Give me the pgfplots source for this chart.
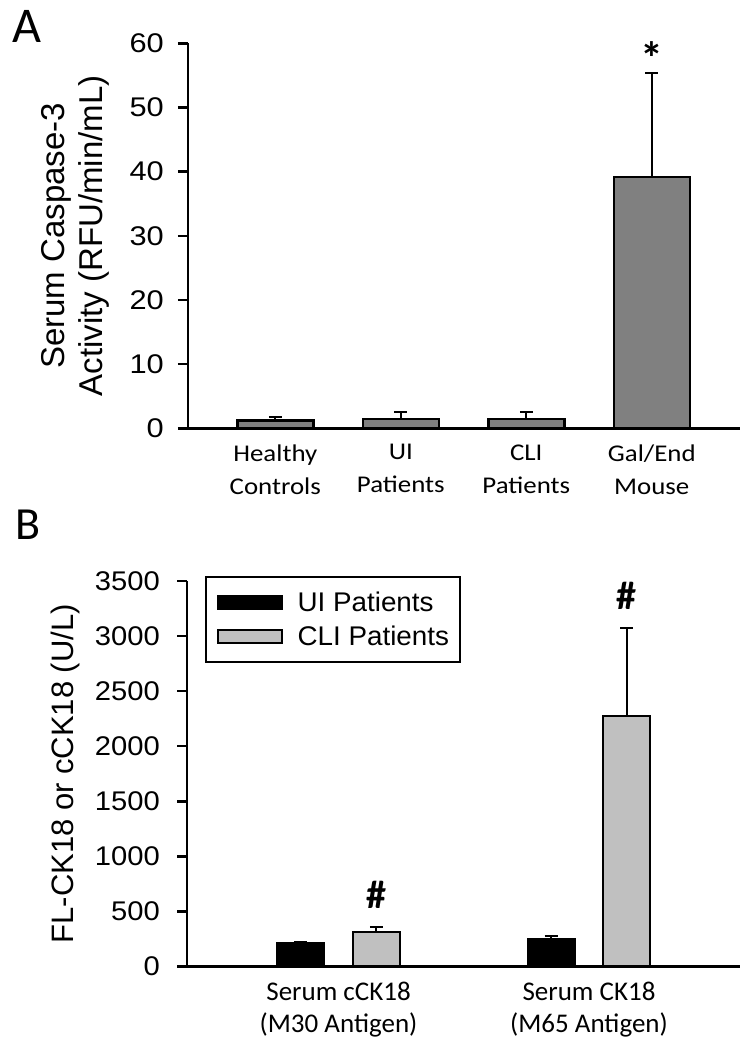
\documentclass[border=0pt]{standalone}
\usepackage{pgfplots}
\pgfplotsset{compat=1.18}
\usepackage{fontspec}
\setmainfont{Carlito}
\newfontfamily\tickA[FakeStretch=1.14]{Liberation Sans}
\newfontfamily\tickB[FakeStretch=1.08]{Liberation Sans}
\newfontfamily\legf[FakeStretch=1.03]{Liberation Sans}
\newfontfamily\labf{Liberation Sans}
\newfontfamily\catA[FakeStretch=1.12]{Carlito}
\newfontfamily\catB{Carlito}
\definecolor{barA}{HTML}{808080}
\definecolor{barCLI}{HTML}{C0C0C0}
\begin{document}
\begin{tikzpicture}
\path[use as bounding box] (0,0) rectangle (755bp,-1048bp);
\node[font=\catB\fontsize{50bp}{52bp}\selectfont, anchor=base west, inner sep=0pt] at (12bp,-42bp) {A};
\node[font=\catB\fontsize{46bp}{48bp}\selectfont, anchor=base west, inner sep=0pt] at (15bp,-539bp) {B};
\begin{axis}[
  at={(188bp,-428.3bp)}, anchor=south west,
  scale only axis, width=552bp, height=385bp,
  xmin=-0.696, xmax=3.703, ymin=0, ymax=60,
  clip=false,
  axis x line*=bottom, axis y line*=left,
  axis line style={line width=2.5bp, black, -},
  tick align=outside, major tick length=10bp,
  ytick={0,10,...,60},
  y tick style={line width=2.5bp, black},
  xtick={0,1,2,3},
  x tick style={draw=none},
  xticklabels={{Healthy\\Controls},{UI\\Patients},{CLI\\Patients},{Gal/End\\Mouse}},
  xticklabel style={align=center, inner sep=0pt, yshift=-6bp, font=\catA\fontsize{24bp}{33bp}\selectfont},
  yticklabel style={inner sep=0pt, xshift=-14bp, font=\tickA\fontsize{27bp}{30bp}\selectfont},
  /pgf/number format/assume math mode=true,
  ylabel={Serum Caspase-3\\Activity (RFU/min/mL)},
  ylabel style={align=center, inner sep=0pt, at={(axis description cs:-0.142,0.5)}, anchor=south, font=\labf\fontsize{33bp}{38bp}\selectfont},
  ybar, bar width=76bp,
]
\addplot[fill=barA, draw=black, line width=2.5bp,
  error bars/.cd, y dir=plus, y explicit,
  error bar style={line width=2.2bp, black},
  error mark options={line width=2.2bp, black, mark size=6.5bp, rotate=90}]
  coordinates {(0,1.19) +- (0,0.62) (1,1.45) +- (0,1.14) (2,1.45) +- (0,1.14) (3,39.2) +- (0,16.2)};
\node[anchor=base, inner sep=0pt, font=\catB\bfseries\fontsize{46bp}{48bp}\selectfont] at (axis cs:3,55.1) {*};
\end{axis}

\begin{axis}[
  at={(187bp,-966.5bp)}, anchor=south west,
  scale only axis, width=553bp, height=385.5bp,
  xmin=-0.605, xmax=1.603, ymin=0, ymax=3500,
  clip=false,
  axis x line*=bottom, axis y line*=left,
  axis line style={line width=2.5bp, black, -},
  tick align=outside, major tick length=10bp,
  ytick={0,500,...,3500},
  y tick style={line width=2.5bp, black},
  xtick={0,1},
  x tick style={draw=none},
  xticklabels={{Serum cCK18\\(M30 Antigen)},{Serum CK18\\(M65 Antigen)}},
  xticklabel style={align=center, inner sep=0pt, yshift=-5bp, font=\catB\fontsize{27bp}{32bp}\selectfont},
  yticklabel style={inner sep=0pt, xshift=-17bp, font=\tickB\fontsize{27bp}{30bp}\selectfont},
  /pgf/number format/assume math mode=true,
  /pgf/number format/1000 sep={},
  ylabel={FL-CK18 or cCK18 (U/L)},
  ylabel style={inner sep=0pt, at={(axis description cs:-0.193,0.5)}, anchor=south, font=\labf\fontsize{31bp}{34bp}\selectfont},
  ybar, bar width=47bp,
  legend style={at={(axis description cs:0.0325,1.0137)}, anchor=north west,
    draw=black, line width=2bp, fill=white,
    nodes={inner sep=0pt},
    inner xsep=11bp, inner ysep=15bp,
    row sep=13bp, column sep=15bp,
    font=\legf\fontsize{27bp}{30bp}\selectfont},
  legend cell align=left,
  legend image code/.code={\draw[#1, line width=1.6bp] (0bp,-6.5bp) rectangle (64bp,6.5bp);},
]
\addplot[fill=black, draw=black, line width=2.2bp, bar shift=-37.75bp,
  error bars/.cd, y dir=plus, y explicit,
  error bar style={line width=2.2bp, black},
  error mark options={line width=2.2bp, black, mark size=6.5bp, rotate=90}]
  coordinates {(0,216) +- (0,9) (1,247) +- (0,30)};
\addlegendentry{UI Patients}
\addplot[fill=barCLI, draw=black, line width=2.2bp, bar shift=37.75bp,
  error bars/.cd, y dir=plus, y explicit,
  error bar style={line width=2.2bp, black},
  error mark options={line width=2.2bp, black, mark size=6.5bp, rotate=90}]
  coordinates {(0,316) +- (0,45) (1,2277) +- (0,796)};
\addlegendentry{CLI Patients}
\node[anchor=base, inner sep=0pt, font=\catB\bfseries\fontsize{40bp}{42bp}\selectfont] at ([xshift=37.75bp]axis cs:0,531) {\#};
\node[anchor=base, inner sep=0pt, font=\catB\bfseries\fontsize{40bp}{42bp}\selectfont] at ([xshift=37.75bp]axis cs:1,3237) {\#};
\end{axis}
\end{tikzpicture}
\end{document}
